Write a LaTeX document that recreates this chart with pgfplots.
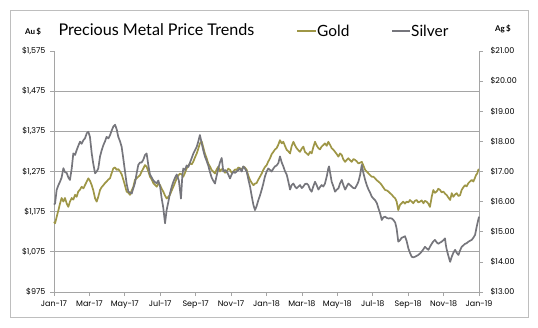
\documentclass[border=0pt]{standalone}
\usepackage{pgfplots}
\usepackage{pgfplotstable}
\pgfplotsset{compat=1.18}
\usepackage{fontspec}
\setmainfont{Lato}
\newfontfamily\tickfont{Poppins}
\definecolor{goldc}{RGB}{158,150,70}
\definecolor{silverc}{RGB}{118,118,124}
\definecolor{gridc}{RGB}{165,165,165}
\definecolor{framec}{RGB}{190,190,190}

\pgfplotstableread{
x y
0.00 1150
0.06 1146
0.15 1162
0.25 1179
0.34 1195
0.43 1209
0.53 1200
0.62 1209
0.72 1195
0.81 1187
0.90 1200
1.00 1209
1.09 1205
1.19 1217
1.28 1212
1.37 1225
1.47 1230
1.56 1237
1.66 1233
1.75 1241
1.85 1250
1.94 1258
2.03 1252
2.13 1241
2.22 1228
2.32 1208
2.41 1200
2.50 1212
2.60 1229
2.69 1236
2.79 1241
2.88 1246
2.97 1250
3.07 1255
3.16 1258
3.25 1270
3.35 1283
3.45 1285
3.54 1279
3.63 1281
3.73 1275
3.82 1268
3.92 1254
4.01 1240
4.10 1225
4.20 1222
4.29 1217
4.39 1228
4.48 1237
4.57 1254
4.67 1258
4.76 1262
4.86 1266
4.95 1275
5.05 1283
5.14 1291
5.23 1287
5.33 1275
5.42 1262
5.52 1255
5.61 1246
5.70 1242
5.80 1237
5.89 1245
5.99 1241
6.08 1232
6.17 1225
6.27 1215
6.36 1208
6.46 1212
6.55 1217
6.65 1228
6.74 1237
6.84 1248
6.93 1258
7.02 1265
7.12 1270
7.21 1268
7.30 1262
7.40 1272
7.49 1283
7.59 1290
7.68 1295
7.78 1293
7.87 1300
7.96 1310
8.06 1320
8.15 1332
8.24 1345
8.34 1350
8.43 1335
8.52 1320
8.62 1308
8.71 1295
8.80 1288
8.90 1279
8.99 1275
9.09 1270
9.18 1280
9.28 1287
9.37 1275
9.47 1281
9.56 1279
9.66 1272
9.75 1275
9.84 1282
9.94 1279
10.03 1272
10.13 1275
10.22 1280
10.31 1279
10.41 1285
10.50 1283
10.60 1280
10.69 1287
10.78 1285
10.88 1279
10.97 1265
11.07 1254
11.16 1247
11.26 1241
11.35 1245
11.44 1246
11.54 1255
11.63 1262
11.73 1270
11.82 1279
11.91 1286
12.01 1291
12.10 1300
12.20 1308
12.29 1318
12.39 1324
12.48 1330
12.57 1333
12.67 1342
12.76 1353
12.86 1345
12.95 1349
13.05 1338
13.14 1329
13.24 1325
13.33 1320
13.42 1338
13.52 1349
13.61 1340
13.70 1333
13.80 1328
13.89 1324
13.99 1332
14.08 1337
14.17 1324
14.27 1320
14.36 1316
14.46 1324
14.55 1320
14.64 1335
14.74 1349
14.83 1340
14.93 1333
15.02 1330
15.11 1337
15.21 1341
15.30 1345
15.40 1339
15.49 1349
15.59 1341
15.68 1333
15.78 1329
15.87 1324
15.97 1318
16.06 1312
16.15 1320
16.25 1316
16.34 1305
16.44 1299
16.53 1304
16.62 1308
16.72 1303
16.81 1299
16.91 1306
17.00 1304
17.10 1300
17.19 1295
17.29 1297
17.38 1299
17.47 1290
17.57 1279
17.66 1275
17.76 1270
17.85 1266
17.94 1262
18.04 1262
18.13 1258
18.23 1253
18.32 1250
18.42 1246
18.51 1241
18.60 1235
18.70 1229
18.79 1228
18.89 1225
18.98 1221
19.08 1217
19.17 1212
19.27 1208
19.35 1200
19.44 1179
19.54 1192
19.63 1196
19.72 1200
19.82 1195
19.91 1200
20.01 1198
20.10 1204
20.20 1200
20.29 1196
20.38 1202
20.48 1204
20.57 1198
20.67 1200
20.76 1203
20.86 1196
20.95 1202
21.04 1200
21.14 1195
21.23 1187
21.33 1212
21.42 1229
21.51 1222
21.61 1225
21.70 1232
21.80 1229
21.89 1223
21.99 1225
22.08 1220
22.18 1216
22.27 1210
22.37 1204
22.46 1221
22.55 1212
22.65 1218
22.74 1221
22.84 1214
22.93 1216
23.02 1229
23.12 1236
23.21 1241
23.30 1238
23.40 1246
23.49 1250
23.59 1254
23.68 1250
23.76 1258
23.83 1266
23.90 1270
23.96 1279
24.00 1281
}\golddata

\pgfplotstableread{
x y
0.00 15.90
0.06 15.94
0.15 16.39
0.25 16.55
0.34 16.66
0.43 16.80
0.53 17.11
0.62 16.98
0.72 16.95
0.81 16.80
0.90 16.72
1.00 17.10
1.09 17.60
1.19 17.55
1.28 17.71
1.37 17.85
1.47 17.99
1.56 17.92
1.66 18.04
1.75 18.10
1.85 18.27
1.94 18.32
2.03 18.15
2.13 17.60
2.22 17.25
2.32 16.94
2.41 17.00
2.50 17.10
2.60 17.50
2.69 17.70
2.79 17.88
2.88 18.00
2.97 18.15
3.07 18.10
3.16 18.20
3.25 18.35
3.35 18.49
3.45 18.55
3.54 18.40
3.63 18.15
3.73 18.00
3.82 17.82
3.92 17.40
4.01 17.00
4.10 16.60
4.20 16.33
4.29 16.30
4.39 16.27
4.48 16.45
4.57 16.61
4.67 16.95
4.76 17.22
4.86 17.30
4.95 17.30
5.05 17.40
5.14 17.55
5.23 17.60
5.33 17.20
5.42 16.90
5.52 16.80
5.61 16.70
5.70 16.65
5.80 16.61
5.89 16.70
5.99 16.50
6.08 16.11
6.17 15.80
6.27 15.28
6.36 15.72
6.46 16.00
6.55 16.28
6.65 16.50
6.74 16.66
6.84 16.80
6.93 16.90
7.05 16.70
7.17 16.10
7.24 16.80
7.30 17.10
7.40 17.05
7.49 17.20
7.59 17.15
7.68 17.30
7.78 17.45
7.87 17.60
7.96 17.70
8.06 17.82
8.15 18.00
8.24 18.21
8.34 17.94
8.43 17.70
8.52 17.50
8.62 17.35
8.71 17.20
8.80 17.00
8.90 16.80
8.99 16.70
9.09 16.60
9.18 16.85
9.28 17.10
9.37 17.30
9.47 17.45
9.56 17.00
9.66 17.05
9.75 17.00
9.84 16.90
9.94 16.77
10.03 16.90
10.13 17.00
10.22 16.95
10.31 17.00
10.41 17.05
10.50 17.10
10.60 17.00
10.69 17.17
10.78 17.10
10.88 17.00
10.97 16.75
11.07 16.50
11.16 16.20
11.26 15.89
11.35 15.72
11.44 15.85
11.54 16.05
11.63 16.20
11.73 16.40
11.82 16.60
11.91 16.83
12.01 17.00
12.10 17.10
12.20 17.05
12.29 17.00
12.39 17.10
12.48 17.17
12.57 17.20
12.67 17.28
12.76 17.50
12.86 17.30
12.95 17.17
13.05 17.00
13.14 16.90
13.24 16.65
13.33 16.40
13.42 16.55
13.52 16.60
13.61 16.50
13.70 16.44
13.80 16.50
13.89 16.55
13.99 16.45
14.08 16.50
14.17 16.58
14.27 16.60
14.36 16.55
14.46 16.40
14.55 16.33
14.64 16.50
14.74 16.66
14.83 16.55
14.93 16.40
15.02 16.48
15.11 16.55
15.21 16.50
15.30 16.60
15.40 16.83
15.49 17.10
15.53 17.17
15.61 16.90
15.68 16.66
15.78 16.50
15.87 16.33
15.97 16.40
16.06 16.44
16.15 16.60
16.25 16.72
16.34 16.55
16.44 16.40
16.53 16.50
16.62 16.60
16.72 16.55
16.81 16.50
16.91 16.45
17.00 16.44
17.10 16.55
17.19 16.66
17.29 16.90
17.38 17.22
17.47 16.95
17.57 16.72
17.66 16.55
17.76 16.40
17.85 16.30
17.94 16.17
18.04 16.10
18.13 16.05
18.23 15.95
18.32 15.78
18.42 15.60
18.51 15.39
18.60 15.48
18.70 15.50
18.79 15.46
18.89 15.44
18.98 15.45
19.08 15.44
19.17 15.39
19.27 15.30
19.35 15.10
19.44 14.67
19.54 14.72
19.63 14.80
19.72 14.82
19.82 14.85
19.91 14.70
20.01 14.45
20.10 14.30
20.20 14.17
20.29 14.15
20.38 14.17
20.48 14.20
20.57 14.23
20.67 14.28
20.76 14.34
20.86 14.42
20.95 14.50
21.04 14.45
21.14 14.40
21.23 14.50
21.33 14.60
21.42 14.68
21.51 14.73
21.61 14.65
21.70 14.60
21.80 14.64
21.89 14.67
21.99 14.72
22.08 14.78
22.13 14.55
22.18 14.40
22.27 14.20
22.37 14.00
22.46 14.17
22.55 14.30
22.65 14.40
22.74 14.30
22.84 14.23
22.93 14.38
23.02 14.50
23.12 14.55
23.21 14.60
23.30 14.62
23.40 14.67
23.49 14.70
23.59 14.73
23.68 14.80
23.78 14.90
23.87 15.17
23.94 15.35
24.00 15.50
}\silverdata

\pgfplotsset{
  common/.style={
    at={(54bp,35bp)}, anchor=south west,
    scale only axis, width=425bp, height=241bp,
    xmin=0, xmax=24,
    axis line style={gridc, line width=0.8bp},
    tick style={gridc, line width=0.7bp},
    tick align=outside,
    major tick length=4bp,
    tick label style={font=\tickfont\fontsize{8}{9.5}\selectfont, text=black},
    clip=false,
  }
}

\begin{document}
\begin{tikzpicture}[x=1bp,y=1bp]
\path[use as bounding box] (0,0) rectangle (538,327);
\draw[framec, line width=0.8bp] (10,10) rectangle (528,317);

\begin{axis}[common,
  axis x line*=bottom, axis y line*=left,
  ymin=975, ymax=1575,
  ytick={975,1075,1175,1275,1375,1475,1575},
  yticklabels={{\$975},{\$1,075},{\$1,175},{\$1,275},{\$1,375},{\$1,475},{\$1,575}},
  extra y ticks={1075,1175,1275,1375,1475},
  extra y tick labels={},
  extra y tick style={grid=major, major tick length=0pt},
  grid style={gridc, line width=0.8bp},
  xtick={0,2,...,24},
  xticklabels={Jan-17,Mar-17,May-17,Jul-17,Sep-17,Nov-17,Jan-18,Mar-18,May-18,Jul-18,Sep-18,Nov-18,Jan-19},
  yticklabel style={xshift=-1bp},
  xticklabel style={yshift=-1bp},
]
\addplot[goldc, line width=1.7bp, line join=round] table[x=x,y=y] {\golddata};
\end{axis}

\begin{axis}[common,
  axis x line=none, axis y line*=right,
  ymin=13, ymax=21,
  ytick={13,14,15,16,17,18,19,20,21},
  yticklabels={{\$13.00},{\$14.00},{\$15.00},{\$16.00},{\$17.00},{\$18.00},{\$19.00},{\$20.00},{\$21.00}},
  yticklabel style={xshift=4bp},
]
\addplot[silverc, line width=1.7bp, line join=round] table[x=x,y=y] {\silverdata};
\end{axis}

\node[anchor=west, font=\fontsize{16.2}{19}\selectfont] at (55,297) {Precious Metal Price Trends};
\node[anchor=center, font=\fontsize{8}{9}\selectfont\bfseries] at (33,295.5) {Au\,\$};
\node[anchor=center, font=\fontsize{8}{9}\selectfont\bfseries] at (503,298.5) {Ag\,\$};
\draw[goldc, line width=1.6bp] (297,296) -- (316,296);
\node[anchor=west, inner sep=0pt, font=\fontsize{15.5}{18}\selectfont] at (317,296.5) {Gold};
\draw[silverc, line width=1.6bp] (392,296) -- (410,296);
\node[anchor=west, inner sep=0pt, font=\fontsize{15.5}{18}\selectfont] at (411,296.5) {Silver};
\end{tikzpicture}
\end{document}
